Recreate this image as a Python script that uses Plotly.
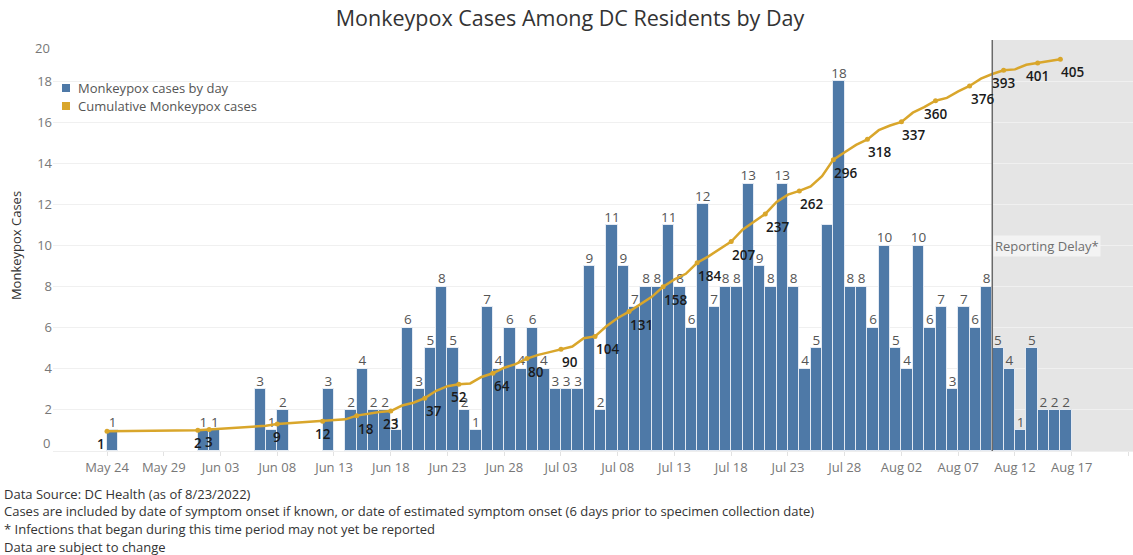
import itertools
import pandas as pd
import plotly.graph_objects as go

# ---------------- data ----------------
dates = [
    "2022-05-24", "2022-06-01", "2022-06-02", "2022-06-06", "2022-06-07", "2022-06-08",
    "2022-06-12", "2022-06-14", "2022-06-15", "2022-06-16", "2022-06-17", "2022-06-18",
    "2022-06-19", "2022-06-20", "2022-06-21", "2022-06-22", "2022-06-23", "2022-06-24",
    "2022-06-25", "2022-06-26", "2022-06-27", "2022-06-28", "2022-06-29", "2022-06-30",
    "2022-07-01", "2022-07-02", "2022-07-03", "2022-07-04", "2022-07-05", "2022-07-06",
    "2022-07-07", "2022-07-08", "2022-07-09", "2022-07-10", "2022-07-11", "2022-07-12",
    "2022-07-13", "2022-07-14", "2022-07-15", "2022-07-16", "2022-07-17", "2022-07-18",
    "2022-07-19", "2022-07-20", "2022-07-21", "2022-07-22", "2022-07-23", "2022-07-24",
    "2022-07-25", "2022-07-26", "2022-07-27", "2022-07-28", "2022-07-29", "2022-07-30",
    "2022-07-31", "2022-08-01", "2022-08-02", "2022-08-03", "2022-08-04", "2022-08-05",
    "2022-08-06", "2022-08-07", "2022-08-08", "2022-08-09", "2022-08-10", "2022-08-11",
    "2022-08-12", "2022-08-13", "2022-08-14", "2022-08-15", "2022-08-16",
]
daily_cases = [
    1, 1, 1, 3, 1, 2,
    3, 2, 4, 2, 2, 1,
    6, 3, 5, 8, 5, 2,
    1, 7, 4, 6, 4, 6,
    4, 3, 3, 3, 9, 2,
    11, 9, 7, 8, 8, 11,
    8, 6, 12, 7, 8, 8,
    13, 9, 8, 13, 8, 4,
    5, 11, 18, 8, 8, 6,
    10, 5, 4, 10, 6, 7,
    3, 7, 6, 8, 5, 4,
    1, 5, 2, 2, 2,
]
# running total (Tableau running sum of the daily counts)
cumulative_cases = list(itertools.accumulate(daily_cases))

# dates whose cumulative total is labelled in the original
cum_label_dates = [
    "2022-05-24", "2022-06-01", "2022-06-02", "2022-06-08", "2022-06-12", "2022-06-15",
    "2022-06-18", "2022-06-21", "2022-06-24", "2022-06-27", "2022-06-30", "2022-07-03",
    "2022-07-06", "2022-07-09", "2022-07-12", "2022-07-15", "2022-07-18", "2022-07-21",
    "2022-07-24", "2022-07-27", "2022-07-30", "2022-08-02", "2022-08-05", "2022-08-08",
    "2022-08-11", "2022-08-14", "2022-08-16",
]
bar_label_hidden = ["2022-07-26"]
delay_start = "2022-08-10"

y_ticks = [0, 2, 4, 6, 8, 10, 12, 14, 16, 18, 20]

title_text = "Monkeypox Cases Among DC Residents by Day"
y_title = "Monkeypox Cases"
legend_names = ["Monkeypox cases by day", "Cumulative Monkeypox cases"]
delay_text = "Reporting Delay*"
footnotes = [
    "Data Source: DC Health (as of 8/23/2022)",
    "Cases are included by date of symptom onset if known, or date of estimated symptom onset (6 days prior to specimen collection date)",
    "* Infections that began during this time period may not yet be reported",
    "Data are subject to change",
]

# ---------------- style ----------------
FONT = "Open Sans, Lato, sans-serif"
BLUE = "#4e79a7"
GOLD = "#d9a62b"
W, H = 1133, 555
ML, MR, MT, MB = 53, 0, 40, 104
PW, PH = W - ML - MR, H - MT - MB

center_labels = {"2022-06-01", "2022-06-02", "2022-06-08", "2022-06-12", "2022-06-18",
                 "2022-06-24", "2022-08-05", "2022-08-11", "2022-08-14"}
right_labels = {"2022-05-24"}


def px_x(p):
    return (p - ML) / PW


def px_y(p):
    return (H - MB - p) / PH


dt = pd.to_datetime(dates)
mid = dt + pd.Timedelta(hours=12)

fig = go.Figure()

fig.add_trace(go.Bar(
    x=dt, y=daily_cases, width=86400000, offset=0,
    marker=dict(color=BLUE, line=dict(color="rgba(235,240,246,0.9)", width=1)),
    showlegend=False, hoverinfo="x+y",
))

fig.add_trace(go.Scatter(
    x=dt, y=cumulative_cases, yaxis="y2", mode="lines",
    line=dict(color=GOLD, width=2.5), showlegend=False,
))

lab_idx = [dates.index(d) for d in cum_label_dates]
fig.add_trace(go.Scatter(
    x=[dt[i] for i in lab_idx], y=[cumulative_cases[i] for i in lab_idx], yaxis="y2",
    mode="markers", marker=dict(color=GOLD, size=5), showlegend=False,
))

bl_x = [mid[i] for i, d in enumerate(dates) if d not in bar_label_hidden]
bl_y = [daily_cases[i] for i, d in enumerate(dates) if d not in bar_label_hidden]
fig.add_trace(go.Scatter(
    x=bl_x, y=bl_y, mode="text", text=[str(v) for v in bl_y],
    textposition="top center", textfont=dict(family=FONT, size=13.5, color="#555555"),
    showlegend=False, hoverinfo="skip",
))

annotations = []
for i in lab_idx:
    d = dates[i]
    anchor = "center" if d in center_labels else ("right" if d in right_labels else "left")
    annotations.append(dict(
        x=dt[i], y=cumulative_cases[i], xref="x", yref="y2", text=str(cumulative_cases[i]),
        showarrow=False, xanchor=anchor, yanchor="middle", yshift=-13,
        xshift=(-1 if anchor == "left" else 0),
        font=dict(family=FONT, size=13.5, color="#1a1a1a", weight=600),
    ))

# edge tick labels (nudged inward as in the original)
annotations.append(dict(x=0, y=px_y(48), xref="paper", yref="paper", text=str(y_ticks[-1]),
                        showarrow=False, xanchor="right", yanchor="middle", xshift=-1,
                        font=dict(family=FONT, size=13, color="#777777")))
annotations.append(dict(x=0, y=px_y(443), xref="paper", yref="paper", text=str(y_ticks[0]),
                        showarrow=False, xanchor="right", yanchor="middle", xshift=-1,
                        font=dict(family=FONT, size=13, color="#777777")))

# Reporting delay label
annotations.append(dict(
    x=pd.Timestamp(delay_start), xref="x", y=px_y(246), yref="paper",
    text=delay_text, showarrow=False, xanchor="left", yanchor="middle", xshift=1,
    bgcolor="#f3f3f3", font=dict(family=FONT, size=13, color="#6f6f6f"),
))

# manual legend
shapes = []
legend_colors = [BLUE, GOLD]
legend_y = [88, 106]
for name, col, yy in zip(legend_names, legend_colors, legend_y):
    shapes.append(dict(type="rect", xref="paper", yref="paper",
                       x0=px_x(62), x1=px_x(70), y0=px_y(yy + 4), y1=px_y(yy - 4),
                       fillcolor=col, line=dict(width=0), layer="above"))
    annotations.append(dict(x=px_x(76), y=px_y(yy), xref="paper", yref="paper", text=name,
                            showarrow=False, xanchor="left", yanchor="middle",
                            font=dict(family=FONT, size=13, color="#555555")))

# footnotes
for txt, yy in zip(footnotes, [494, 511, 529, 547]):
    annotations.append(dict(x=px_x(2), y=px_y(yy), xref="paper", yref="paper", text=txt,
                            showarrow=False, xanchor="left", yanchor="middle",
                            font=dict(family=FONT, size=13, color="#333333")))

# reporting delay shading + line
shapes.append(dict(type="rect", xref="x", yref="paper", x0=pd.Timestamp(delay_start),
                   x1="2022-08-23", y0=0, y1=1, fillcolor="#e5e5e5",
                   line=dict(width=0), layer="below"))
shapes.append(dict(type="line", xref="x", yref="paper", x0=pd.Timestamp(delay_start),
                   x1=pd.Timestamp(delay_start), y0=0, y1=1,
                   line=dict(color="#6a6a6a", width=1.5), layer="above"))

fig.update_layout(
    width=W, height=H,
    margin=dict(l=ML, r=MR, t=MT, b=MB, autoexpand=False),
    paper_bgcolor="white", plot_bgcolor="white",
    font=dict(family=FONT, color="#666666"),
    title=dict(text=title_text, x=570 / W, xref="container", xanchor="center",
               y=1 - 18 / H, yref="container", yanchor="middle",
               font=dict(family=FONT, size=21.5, color="#333333")),
    bargap=0,
    xaxis=dict(
        type="date", range=["2022-05-19 05:49", "2022-08-22 09:36"],
        tick0="2022-05-24", dtick=5 * 86400000, tickformat="%b %d",
        showgrid=False, zeroline=False, ticks="outside", ticklen=4, tickcolor="#e2e2e2",
        tickfont=dict(family=FONT, size=13, color="#777777"),
        showline=True, linecolor="#eeeeee", linewidth=1, automargin=False,
    ),
    yaxis=dict(
        range=[0, 20], tickvals=y_ticks,
        ticktext=[""] + [str(v) for v in y_ticks[1:-1]] + [""],
        showgrid=True, gridcolor="#f0f0f0", gridwidth=1,
        zeroline=False, tickfont=dict(family=FONT, size=13, color="#777777"),
        title=dict(text=y_title, font=dict(family=FONT, size=13, color="#333333"), standoff=12),
        automargin=False,
    ),
    yaxis2=dict(range=[-20.4, 425.9], overlaying="y", side="right", visible=False,
                showgrid=False),
    shapes=shapes,
    annotations=annotations,
)

fig.write_html("out.html", config={"displayModeBar": False},
               post_script="document.body.style.margin='0px';")
